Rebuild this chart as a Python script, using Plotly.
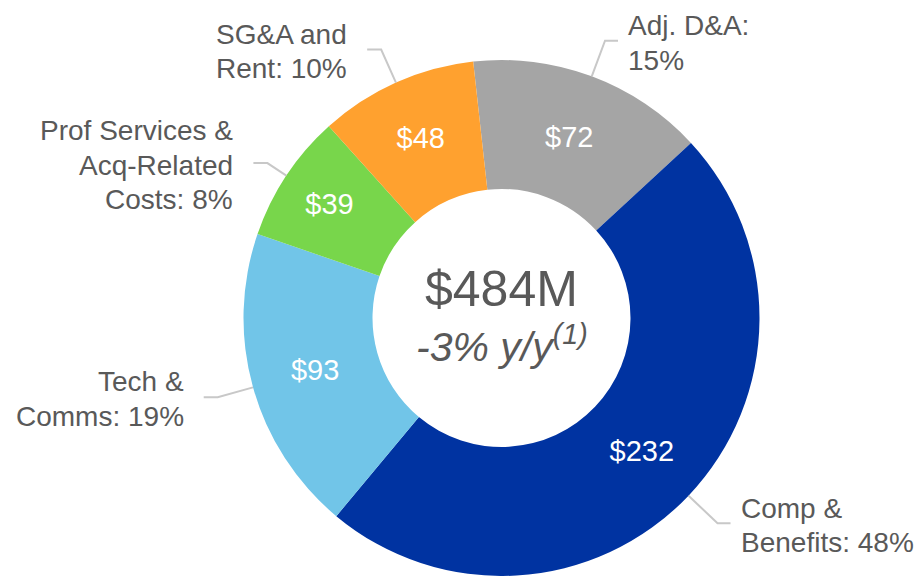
import math
import plotly.graph_objects as go

# ---- data ----
categories = ["Adj. D&A", "Comp & Benefits", "Tech & Comms",
              "Prof Services & Acq-Related Costs", "SG&A and Rent"]
values = [72, 232, 93, 39, 48]
value_labels = ["$72", "$232", "$93", "$39", "$48"]
outside_labels = ["Adj. D&A:<br>15%", "Comp &<br>Benefits: 48%", "Tech &<br>Comms: 19%",
                  "Prof Services &<br>Acq-Related<br>Costs: 8%", "SG&A and<br>Rent: 10%"]
colors = ["#A5A5A5", "#0033A1", "#71C5E8", "#78D64B", "#FFA12F"]
center_total = "$484M"
center_change = "-3% y/y<sup>(1)</sup>"

# ---- layout constants ----
W, H = 918, 576
CX, CY, R = 501.5, 318, 258   # pixel centre / radius of the donut
ROT = -6.3
TEXT_COLOR = "#595959"
FONT = "Liberation Sans, Arial, sans-serif"
LINE_GAP = 34.5
ELBOW_R = [1.147, 1.155, 1.142, 1.088, 1.14]   # leader-line elbow radius (x R)

def px(x):
    return x / W

def py(y):
    return 1 - y / H

fig = go.Figure(go.Pie(
    labels=categories,
    values=values,
    text=value_labels,
    textinfo="text",
    textposition="inside",
    insidetextorientation="horizontal",
    textfont=dict(color="white", size=29, family=FONT),
    marker=dict(colors=colors, line=dict(width=0)),
    hole=0.5,
    sort=False,
    direction="clockwise",
    rotation=ROT,
    hoverinfo="skip",
    showlegend=False,
    domain=dict(x=[px(CX - R), px(CX + R)], y=[py(CY + R), py(CY - R)]),
))

shapes = []
annotations = []
total = sum(values)
cum = 0
for v, lab, ef in zip(values, outside_labels, ELBOW_R):
    mid = math.radians(ROT + 360 * (cum + v / 2) / total)
    cum += v
    sx, sy = CX + R * math.sin(mid), CY - R * math.cos(mid)
    r2 = R * ef
    ex, ey = CX + r2 * math.sin(mid), CY - r2 * math.cos(mid)
    right = math.sin(mid) > 0
    hx = ex + (13 if right else -14)
    shapes.append(dict(
        type="path", xref="paper", yref="paper",
        path=f"M {px(sx)},{py(sy)} L {px(ex)},{py(ey)} L {px(hx)},{py(ey)}",
        line=dict(color="#C8C8C8", width=2),
    ))
    tx = hx + (8 if right else -18)
    lines = lab.split("<br>")
    n = len(lines)
    for i, ln in enumerate(lines):
        yy = ey + 2 + (i - (n - 1) / 2) * LINE_GAP
        annotations.append(dict(
            x=px(tx), y=py(yy), xref="paper", yref="paper",
            text=ln, showarrow=False,
            xanchor="left" if right else "right", yanchor="middle",
            align="left" if right else "right",
            font=dict(size=28, color=TEXT_COLOR, family=FONT),
        ))

annotations.append(dict(
    x=px(CX), y=py(289), xref="paper", yref="paper",
    text=center_total, showarrow=False, xanchor="center", yanchor="middle",
    font=dict(size=50, color=TEXT_COLOR, family=FONT),
))
annotations.append(dict(
    x=px(CX), y=py(344), xref="paper", yref="paper",
    text=f"<i>{center_change}</i>", showarrow=False, xanchor="center", yanchor="middle",
    font=dict(size=41, color=TEXT_COLOR, family=FONT),
))

fig.update_layout(
    width=W, height=H,
    margin=dict(l=0, r=0, t=0, b=0),
    paper_bgcolor="white", plot_bgcolor="white",
    shapes=shapes, annotations=annotations,
)

fig.write_html("out.html", config={"displayModeBar": False},
               post_script="document.body.style.margin='0px';")
